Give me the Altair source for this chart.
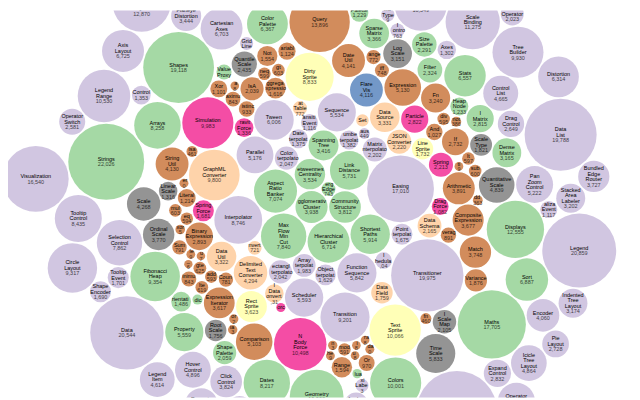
import math
import re
import altair as alt
import pandas as pd

# ---- flare leaves, in file order, grouped by top-level package ----
GROUPS = ["analytics", "animate", "data", "display", "flex", "physics", "query", "scale", "util", "vis"]

analytics_names = ["AgglomerativeCluster", "CommunityStructure", "HierarchicalCluster", "MergeEdge",
                   "BetweennessCentrality", "LinkDistance", "MaxFlowMinCut", "ShortestPaths", "SpanningTree",
                   "AspectRatioBanker"]
analytics_values = [3938, 3812, 6714, 743, 3534, 5731, 7840, 5914, 3416, 7074]

animate_names = ["Easing", "FunctionSequence", "ArrayInterpolator", "ColorInterpolator", "DateInterpolator",
                 "Interpolator", "MatrixInterpolator", "NumberInterpolator", "ObjectInterpolator",
                 "PointInterpolator", "RectangleInterpolator", "ISchedulable", "Parallel", "Pause", "Scheduler",
                 "Sequence", "Transition", "Transitioner", "TransitionEvent", "Tween"]
animate_values = [17010, 5842, 1983, 2047, 1375, 8746, 2202, 1382, 1629, 1675, 2042, 1041, 5176, 449, 5593,
                  5534, 9201, 19975, 1116, 6006]

data_names = ["Converters", "DelimitedTextConverter", "GraphMLConverter", "IDataConverter", "JSONConverter",
              "DataField", "DataSchema", "DataSet", "DataSource", "DataTable", "DataUtil"]
data_values = [721, 4294, 9800, 1314, 2220, 1759, 2165, 586, 3331, 772, 3322]

display_names = ["DirtySprite", "LineSprite", "RectSprite", "TextSprite"]
display_values = [8833, 1732, 3623, 10066]

flex_names = ["FlareVis"]
flex_values = [4116]

physics_names = ["DragForce", "GravityForce", "IForce", "NBodyForce", "Particle", "Simulation", "Spring",
                 "SpringForce"]
physics_values = [1082, 1336, 319, 10498, 2822, 9983, 2213, 1681]

query_names = ["AggregateExpression", "And", "Arithmetic", "Average", "BinaryExpression", "Comparison",
               "CompositeExpression", "Count", "DateUtil", "Distinct", "Expression", "ExpressionIterator", "Fn",
               "If", "IsA", "Literal", "Match", "Maximum",
               "add", "and", "average", "count", "distinct", "div", "eq", "fn", "gt", "gte", "iff", "isa", "lt",
               "lte", "max", "min", "mod", "mul", "neq", "not", "or", "orderby", "range", "select", "stddev",
               "sub", "sum", "update", "variance", "where", "xor", "_",
               "Minimum", "Not", "Or", "Query", "Range", "StringUtil", "Sum", "Variable", "Variance", "Xor"]
query_values = [1616, 1027, 3891, 891, 2893, 5103, 3677, 781, 4141, 933, 5130, 3617, 3240, 2732, 2039, 1214,
                3748, 843,
                593, 330, 287, 277, 292, 595, 594, 460, 603, 625, 748, 461, 597, 619, 283, 283, 591, 603, 599,
                386, 323, 307, 772, 296, 363, 600, 280, 307, 335, 299, 354, 264,
                843, 1554, 970, 13896, 1594, 4130, 791, 1124, 1876, 1101]

scale_names = ["IScaleMap", "LinearScale", "LogScale", "OrdinalScale", "QuantileScale", "QuantitativeScale",
               "RootScale", "Scale", "ScaleType", "TimeScale"]
scale_values = [2105, 1316, 3151, 3770, 2435, 4839, 1756, 4268, 1821, 5833]

util_names = ["Arrays", "Colors", "Dates", "Displays", "Filter", "Geometry", "FibonacciHeap", "HeapNode",
              "IEvaluable", "IPredicate", "IValueProxy", "DenseMatrix", "IMatrix", "SparseMatrix", "Maths",
              "Orientation", "ColorPalette", "Palette", "ShapePalette", "SizePalette", "Property", "Shapes",
              "Sort", "Stats", "Strings"]
util_values = [8258, 10001, 8217, 12555, 2324, 10993, 9354, 1233, 335, 383, 874, 3165, 2815, 3366, 17705,
               1486, 6367, 1229, 2059, 2291, 5559, 19118, 6887, 6557, 22026]

vis_names = ["Axes", "Axis", "AxisGridLine", "AxisLabel", "CartesianAxes",
             "AnchorControl", "ClickControl", "Control", "ControlList", "DragControl", "ExpandControl",
             "HoverControl", "IControl", "PanZoomControl", "SelectionControl", "TooltipControl",
             "Data", "DataList", "DataSprite", "EdgeSprite", "NodeSprite", "ArrowType", "EdgeRenderer",
             "IRenderer", "ShapeRenderer", "ScaleBinding", "Tree", "TreeBuilder",
             "DataEvent", "SelectionEvent", "TooltipEvent", "VisualizationEvent",
             "Legend", "LegendItem", "LegendRange",
             "BifocalDistortion", "Distortion", "FisheyeDistortion", "ColorEncoder", "Encoder",
             "PropertyEncoder", "ShapeEncoder", "SizeEncoder", "FisheyeTreeFilter", "GraphDistanceFilter",
             "VisibilityFilter", "IOperator", "Labeler", "RadialLabeler", "StackedAreaLabeler",
             "AxisLayout", "BundledEdgeRouter", "CircleLayout", "CirclePackingLayout", "DendrogramLayout",
             "ForceDirectedLayout", "IcicleTreeLayout", "IndentedTreeLayout", "Layout", "NodeLinkTreeLayout",
             "PieLayout", "RadialTreeLayout", "RandomLayout", "StackedAreaLayout", "TreeMapLayout",
             "Operator", "OperatorList", "OperatorSequence", "OperatorSwitch", "SortOperator", "Visualization"]
vis_values = [1302, 24593, 652, 636, 6703,
              2138, 3824, 1353, 4665, 2649, 2832, 4896, 763, 5222, 7862, 8435,
              20544, 19788, 10349, 3301, 19382, 698, 5569, 353, 2247, 11275, 7147, 9930,
              2313, 1880, 1701, 1117,
              20859, 4614, 10530,
              4461, 6314, 3444, 3179, 4060, 4138, 1690, 1830, 5219, 3165, 3509, 1286, 9956, 3899, 3202,
              6725, 3727, 9317, 12003, 4853, 8411, 4864, 3174, 7881, 12870, 2728, 12348, 870, 9121, 9191,
              2490, 5248, 4190, 2581, 2023, 16540]

ACCENT = ["#7fc97f", "#beaed4", "#fdc086", "#ffff99", "#386cb0", "#f0027f", "#bf5b17", "#666666"]

# ---- display parameters ----
W_ORIG = 1152          # original chart width; pack size = W - 2
PADDING = 3
FONT_ORIG = 10
SCALE = 640 / 1152     # original chart shown 640 px wide
ORIGIN_PAGE = (0.35, -120.0)   # page position of the layout's (0, 0)
PAGE_MARGIN = 8
CW, CH = 632, 392


# ---- d3.pack (d3-hierarchy v3) ----
def lcg():
    st = [1]
    def rnd():
        st[0] = (1664525 * st[0] + 1013904223) % 4294967296
        return st[0] / 4294967296
    return rnd


def shuffle(arr, rnd):
    m = len(arr)
    while m:
        i = int(rnd() * m)
        m -= 1
        arr[m], arr[i] = arr[i], arr[m]
    return arr


def encloses_not(a, b):
    dr = a["r"] - b["r"]; dx = b["x"] - a["x"]; dy = b["y"] - a["y"]
    return dr < 0 or dr * dr < dx * dx + dy * dy


def encloses_weak(a, b):
    dr = a["r"] - b["r"] + max(a["r"], b["r"], 1) * 1e-9
    dx = b["x"] - a["x"]; dy = b["y"] - a["y"]
    return dr > 0 and dr * dr > dx * dx + dy * dy


def encloses_weak_all(a, B):
    return all(encloses_weak(a, b) for b in B)


def basis2(a, b):
    x1, y1, r1 = a["x"], a["y"], a["r"]
    x2, y2, r2 = b["x"], b["y"], b["r"]
    x21, y21, r21 = x2 - x1, y2 - y1, r2 - r1
    l = math.sqrt(x21 * x21 + y21 * y21)
    return {"x": (x1 + x2 + x21 / l * r21) / 2, "y": (y1 + y2 + y21 / l * r21) / 2, "r": (l + r1 + r2) / 2}


def basis3(a, b, c):
    x1, y1, r1 = a["x"], a["y"], a["r"]
    x2, y2, r2 = b["x"], b["y"], b["r"]
    x3, y3, r3 = c["x"], c["y"], c["r"]
    a2 = x1 - x2; a3 = x1 - x3; b2 = y1 - y2; b3 = y1 - y3
    c2 = r2 - r1; c3 = r3 - r1
    d1 = x1 * x1 + y1 * y1 - r1 * r1
    d2 = d1 - x2 * x2 - y2 * y2 + r2 * r2
    d3 = d1 - x3 * x3 - y3 * y3 + r3 * r3
    ab = a3 * b2 - a2 * b3
    xa = (b2 * d3 - b3 * d2) / (ab * 2) - x1
    xb = (b3 * c2 - b2 * c3) / ab
    ya = (a3 * d2 - a2 * d3) / (ab * 2) - y1
    yb = (a2 * c3 - a3 * c2) / ab
    A = xb * xb + yb * yb - 1
    Bq = 2 * (r1 + xa * xb + ya * yb)
    C = xa * xa + ya * ya - r1 * r1
    r = -((Bq + math.sqrt(max(0.0, Bq * Bq - 4 * A * C))) / (2 * A) if abs(A) > 1e-6 else C / Bq)
    return {"x": x1 + xa + xb * r, "y": y1 + ya + yb * r, "r": r}


def enclose_basis(B):
    if len(B) == 1:
        return {"x": B[0]["x"], "y": B[0]["y"], "r": B[0]["r"]}
    if len(B) == 2:
        return basis2(B[0], B[1])
    return basis3(B[0], B[1], B[2])


def extend_basis(B, p):
    if encloses_weak_all(p, B):
        return [p]
    for i in range(len(B)):
        if encloses_not(p, B[i]) and encloses_weak_all(basis2(B[i], p), B):
            return [B[i], p]
    for i in range(len(B) - 1):
        for j in range(i + 1, len(B)):
            if (encloses_not(basis2(B[i], B[j]), p) and encloses_not(basis2(B[i], p), B[j])
                    and encloses_not(basis2(B[j], p), B[i])
                    and encloses_weak_all(basis3(B[i], B[j], p), B)):
                return [B[i], B[j], p]
    raise RuntimeError("enclose failed")


def pack_enclose(circles, rnd):
    circles = shuffle(list(circles), rnd)
    n = len(circles); i = 0; B = []; e = None
    while i < n:
        p = circles[i]
        if e is not None and encloses_weak(e, p):
            i += 1
        else:
            B = extend_basis(B, p)
            e = enclose_basis(B)
            i = 0
    return e


def place(b, a, c):
    dx = b["x"] - a["x"]; dy = b["y"] - a["y"]
    d2 = dx * dx + dy * dy
    if d2:
        a2 = (a["r"] + c["r"]) ** 2
        b2 = (b["r"] + c["r"]) ** 2
        if a2 > b2:
            x = (d2 + b2 - a2) / (2 * d2)
            y = math.sqrt(max(0.0, b2 / d2 - x * x))
            c["x"] = b["x"] - x * dx - y * dy
            c["y"] = b["y"] - x * dy + y * dx
        else:
            x = (d2 + a2 - b2) / (2 * d2)
            y = math.sqrt(max(0.0, a2 / d2 - x * x))
            c["x"] = a["x"] + x * dx - y * dy
            c["y"] = a["y"] + x * dy + y * dx
    else:
        c["x"] = a["x"] + c["r"]
        c["y"] = a["y"]


def intersects(a, b):
    dr = a["r"] + b["r"] - 1e-6
    dx = b["x"] - a["x"]; dy = b["y"] - a["y"]
    return dr > 0 and dr * dr > dx * dx + dy * dy


class Node:
    __slots__ = ("c", "next", "prev")

    def __init__(self, c):
        self.c = c; self.next = None; self.prev = None


def score(node):
    a = node.c; b = node.next.c
    ab = a["r"] + b["r"]
    dx = (a["x"] * b["r"] + b["x"] * a["r"]) / ab
    dy = (a["y"] * b["r"] + b["y"] * a["r"]) / ab
    return dx * dx + dy * dy


def pack_siblings(circles, rnd):
    n = len(circles)
    a = circles[0]; a["x"] = 0.0; a["y"] = 0.0
    b = circles[1]; a["x"] = -b["r"]; b["x"] = a["r"]; b["y"] = 0.0
    place(b, a, circles[2])
    a = Node(a); b = Node(b); c = Node(circles[2])
    a.next = b; c.prev = b
    b.next = c; a.prev = c
    c.next = a; b.prev = a
    i = 3
    while i < n:
        place(a.c, b.c, circles[i])
        c = Node(circles[i])
        j = b.next; k = a.prev; sj = b.c["r"]; sk = a.c["r"]
        restart = False
        while True:
            if sj <= sk:
                if intersects(j.c, c.c):
                    b = j; a.next = b; b.prev = a
                    restart = True
                    break
                sj += j.c["r"]; j = j.next
            else:
                if intersects(k.c, c.c):
                    a = k; a.next = b; b.prev = a
                    restart = True
                    break
                sk += k.c["r"]; k = k.prev
            if j is k.next:
                break
        if restart:
            continue
        c.prev = a; c.next = b
        a.next = c; b.prev = c; b = c
        aa = score(a)
        c = c.next
        while c is not b:
            ca = score(c)
            if ca < aa:
                a = c; aa = ca
            c = c.next
        b = a.next
        i += 1
    chain = [b.c]; c = b.next
    while c is not b:
        chain.append(c.c); c = c.next
    e = pack_enclose(chain, rnd)
    for ci in circles:
        ci["x"] -= e["x"]; ci["y"] -= e["y"]
    return e["r"]


def d3_pack(values, size, padding):
    rnd = lcg()
    nodes = [{"r": math.sqrt(v), "x": 0.0, "y": 0.0} for v in values]
    root_r = pack_siblings(nodes, rnd)
    pad = padding * root_r / size
    for nd in nodes:
        nd["r"] += pad
    e = pack_siblings(nodes, rnd)
    for nd in nodes:
        nd["r"] -= pad
    root_r = e + pad
    k = size / (2 * root_r)
    for nd in nodes:
        nd["x"] = size / 2 + k * nd["x"]
        nd["y"] = size / 2 + k * nd["y"]
        nd["r"] *= k
    return nodes


# ---- assemble leaves ----
group_lists = [
    ("analytics", analytics_names, analytics_values), ("animate", animate_names, animate_values),
    ("data", data_names, data_values), ("display", display_names, display_values),
    ("flex", flex_names, flex_values), ("physics", physics_names, physics_values),
    ("query", query_names, query_values), ("scale", scale_names, scale_values),
    ("util", util_names, util_values), ("vis", vis_names, vis_values)]
leaf_group, leaf_name, leaf_value = [], [], []
for g, ns, vs in group_lists:
    for nm, v in zip(ns, vs):
        leaf_group.append(g); leaf_name.append(nm); leaf_value.append(v)

S = W_ORIG - 2
nodes = d3_pack(leaf_value, S, PADDING)

# Arial / Liberation Sans advance widths (em), used to clip labels to their circle
ADV = dict(zip("abcdefghijklmnopqrstuvwxyz",
               [.556, .556, .5, .556, .556, .278, .556, .556, .222, .222, .5, .222, .833, .556, .556, .556,
                .556, .333, .5, .278, .556, .5, .722, .5, .5, .5]))
ADV.update(dict(zip("ABCDEFGHIJKLMNOPQRSTUVWXYZ",
                    [.667, .667, .722, .722, .667, .611, .778, .722, .278, .5, .667, .556, .833, .722, .778,
                     .667, .778, .722, .667, .611, .722, .667, .944, .667, .667, .611])))
ADV.update({d: .556 for d in "0123456789"})
ADV.update({",": .278, "_": .556, " ": .278})

FPX = FONT_ORIG * SCALE

circle_rows, name_rows, value_rows = [], [], []
for g, nm, v, nd in zip(leaf_group, leaf_name, leaf_value, nodes):
    rd = nd["r"] * SCALE
    circle_rows.append({"x": nd["x"], "y": nd["y"], "size": (2 * rd) ** 2, "group": g, "name": nm})
    words = [w for w in re.split(r"(?=[A-Z][a-z])|\s+", nm) if w]
    n = len(words)
    lines = words + [f"{v:,}"]
    for i, t in enumerate(lines):
        yb = (i - n / 2 + 0.35) * FPX
        mid = (i - n / 2) * FPX
        if abs(mid) >= rd - 0.15 * FPX:
            continue
        h = math.sqrt(rd * rd - mid * mid)
        widths = [ADV.get(ch, .556) * FPX for ch in t]
        pos = -sum(widths) / 2
        keep = []
        for ch, wdt in zip(t, widths):
            if abs(pos + wdt / 2) + 0.3 * wdt <= h:
                keep.append((ch, pos, pos + wdt))
            pos += wdt
        if not keep:
            continue
        txt = "".join(kk[0] for kk in keep)
        off = (keep[0][1] + keep[-1][2]) / 2
        row = {"x": nd["x"] + off / SCALE, "y": nd["y"] + yb / SCALE, "t": txt}
        (value_rows if i == n else name_rows).append(row)

cdf = pd.DataFrame(circle_rows)
ndf = pd.DataFrame(name_rows)
vdf = pd.DataFrame(value_rows)

x_lo = (PAGE_MARGIN - ORIGIN_PAGE[0]) / SCALE
y_lo = (PAGE_MARGIN - ORIGIN_PAGE[1]) / SCALE
xs = alt.Scale(domain=[x_lo, x_lo + CW / SCALE], nice=False, zero=False)
ys = alt.Scale(domain=[y_lo, y_lo + CH / SCALE], nice=False, zero=False, reverse=True)

colors10 = [ACCENT[i % len(ACCENT)] for i in range(len(GROUPS))]

circles = alt.Chart(cdf).mark_circle(opacity=0.7, strokeWidth=0, clip=True).encode(
    x=alt.X("x:Q", scale=xs, axis=None),
    y=alt.Y("y:Q", scale=ys, axis=None),
    size=alt.Size("size:Q", scale=None, legend=None),
    color=alt.Color("group:N", scale=alt.Scale(domain=GROUPS, range=colors10), legend=None),
)

name_text = alt.Chart(ndf).mark_text(font="Liberation Sans", fontSize=FPX, align="center",
                                     baseline="alphabetic", color="black", clip=True).encode(
    x=alt.X("x:Q", scale=xs, axis=None), y=alt.Y("y:Q", scale=ys, axis=None), text="t:N")
value_text = alt.Chart(vdf).mark_text(font="Liberation Sans", fontSize=FPX, align="center",
                                      baseline="alphabetic", color="black", opacity=0.7, clip=True).encode(
    x=alt.X("x:Q", scale=xs, axis=None), y=alt.Y("y:Q", scale=ys, axis=None), text="t:N")

chart = alt.layer(circles, name_text, value_text).properties(
    width=CW, height=CH, padding=0, autosize=alt.AutoSizeParams(type="none")
).configure_view(strokeWidth=0)

chart.save("out.html", embed_options={"renderer": "svg", "actions": False})
